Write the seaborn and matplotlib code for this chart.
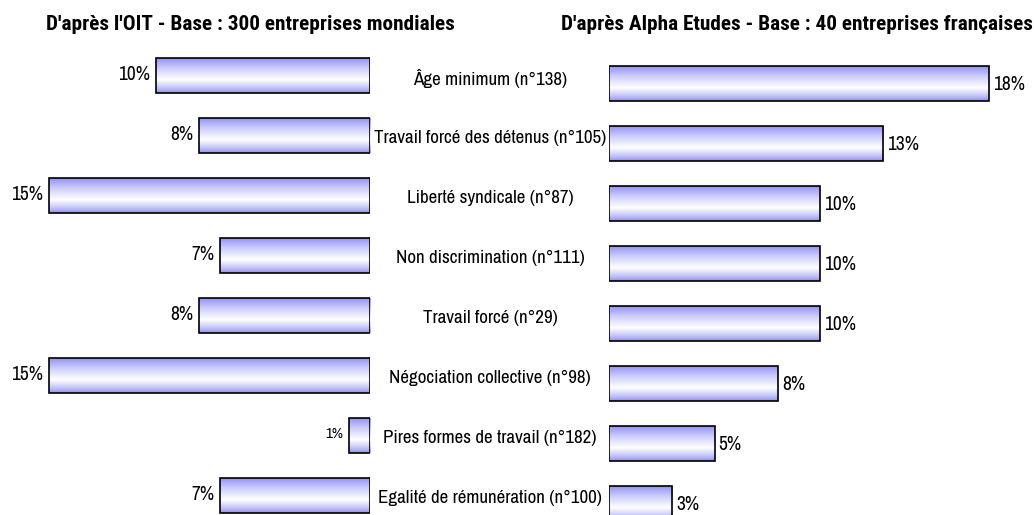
import numpy as np
import pandas as pd
import matplotlib
matplotlib.use("Agg")
import matplotlib.pyplot as plt
import seaborn as sns
from matplotlib import font_manager as fm
from matplotlib.colors import LinearSegmentedColormap

conventions = [
    "Âge minimum (n°138)",
    "Travail forcé des détenus (n°105)",
    "Liberté syndicale (n°87)",
    "Non discrimination (n°111)",
    "Travail forcé (n°29)",
    "Négociation collective (n°98)",
    "Pires formes de travail (n°182)",
    "Egalité de rémunération (n°100)",
]
oit_values = [10, 8, 15, 7, 8, 15, 1, 7]
alpha_values = [18, 13, 10, 10, 10, 8, 5, 3]

title_left = "D'après l'OIT - Base : 300 entreprises mondiales"
title_right = "D'après Alpha Etudes - Base : 40 entreprises françaises"

sns.set_style("white")
# narrow sans like Arial Narrow, whichever one is around
fonts = fm.fontManager.ttflist
available = {f.name for f in fonts}
with_bold = {f.name for f in fonts if isinstance(f.weight, int) and f.weight >= 600
             or f.weight in ("bold", "semibold", "demibold")}
narrow = [n for n in ["Liberation Sans Narrow", "Archivo Narrow", "Fira Sans Condensed"]
          if n in available]
narrow_bold = [n for n in ["Liberation Sans Narrow", "Archivo Narrow", "Roboto Condensed",
                           "Fira Sans Condensed", "Barlow Semi Condensed"] if n in with_bold]
plt.rcParams['font.family'] = narrow[:1] + ['DejaVu Sans']
plt.rcParams['text.color'] = 'black'
title_family = narrow_bold[:1] + ['DejaVu Sans']

W, H = 1034, 515
fig = plt.figure(figsize=(W / 100, H / 100), dpi=100)

# blue at top and bottom edges, white a bit below the middle
grad_cmap = LinearSegmentedColormap.from_list(
    "barfill", [(0.0, "#9292f6"), (0.3, "#cfcffb"), (0.62, "#ffffff"),
                (0.85, "#c4c4fa"), (1.0, "#9090f2")])


def gradient_bars(ax, df, xmax, top_px):
    sns.barplot(data=df, x="value", y="label", orient="h", ax=ax,
                width=0.58, facecolor="none", edgecolor="black", linewidth=1.2)
    grad = np.linspace(0, 1, 256).reshape(-1, 1)
    for p in ax.patches:
        x0, y0 = p.get_x(), p.get_y()
        w, h = p.get_width(), p.get_height()
        im = ax.imshow(grad, cmap=grad_cmap, aspect="auto", interpolation="bicubic",
                       extent=[x0, x0 + w, y0 + h, y0], zorder=p.get_zorder() - 0.1)
        im.set_clip_path(p)
    ax.set_xlim(0, xmax)
    ax.set_ylim((H - top_px) / 60.0, -top_px / 60.0)
    ax.axis("off")


# left panel: bars grow leftwards from x=370 px
ax_l = fig.add_axes([0, 0, 370 / W, 1])
df_l = pd.DataFrame({"label": conventions, "value": oit_values})
gradient_bars(ax_l, df_l, 370 / 21.4, 75.5)
ax_l.invert_xaxis()
for i, v in enumerate(oit_values):
    ax_l.annotate(f"{v}%", (v, i), xytext=(-4, 1), textcoords="offset points",
                  ha="right", va="center", fontsize=14 if v > 1 else 11)

# right panel: bars grow rightwards from x=609 px
ax_r = fig.add_axes([609 / W, 0, (W - 609) / W, 1])
df_r = pd.DataFrame({"label": conventions, "value": alpha_values})
gradient_bars(ax_r, df_r, (W - 609) / 21.1, 83.5)
for i, v in enumerate(alpha_values):
    ax_r.annotate(f"{v}%", (v, i), xytext=(3, -1), textcoords="offset points",
                  ha="left", va="center", fontsize=14)

# category names between the two panels
for i, lab in enumerate(conventions):
    fig.text(490 / W, 1 - (78 + 60 * i) / H, lab, ha="center", va="center", fontsize=13.7)

fig.text(250 / W, 1 - 24 / H, title_left, ha="center", va="center",
         fontsize=15.3, fontweight="bold", family=title_family)
fig.text(797 / W, 1 - 24 / H, title_right, ha="center", va="center",
         fontsize=15.3, fontweight="bold", family=title_family)

fig.savefig("out.png", dpi=100)
